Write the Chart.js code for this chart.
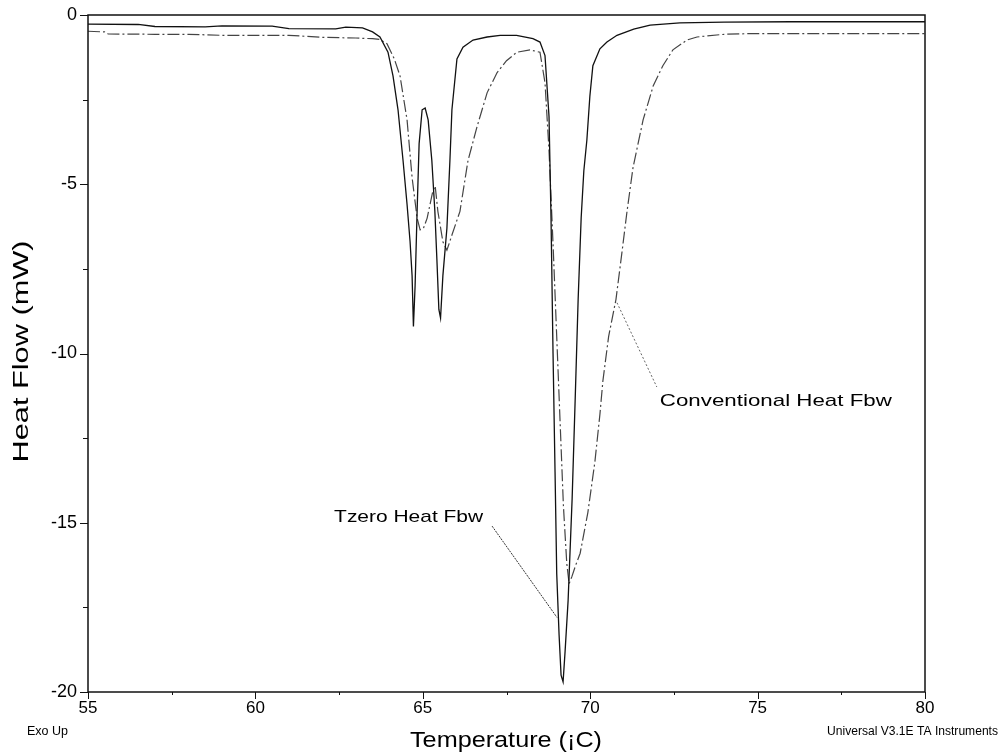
<html>
<head>
<meta charset="utf-8">
<script src="https://cdn.jsdelivr.net/npm/chart.js@4.4.1/dist/chart.umd.min.js"></script>
<style>
	body { margin: 0; background: #fff; }
</style>
</head>
<body>
<canvas id="dscChart" width="1000" height="753"></canvas>

<script>
	// Tzero heat flow (sharp curve)
	var tzero_t = [55, 56.5, 57, 58.5, 59, 60.5, 61, 62.4, 62.7, 63.2, 63.5, 63.72, 63.96, 64.11, 64.26, 64.41, 64.53, 64.62, 64.68, 64.72,
		64.77, 64.83, 64.89, 64.98, 65.07, 65.16, 65.27, 65.36, 65.42, 65.48, 65.53, 65.6, 65.72, 65.81, 65.87, 66.02, 66.2, 66.5, 66.92, 67.31,
		67.8, 68.29, 68.5, 68.65, 68.77, 68.83, 68.89, 68.95, 69.0, 69.07, 69.13, 69.19, 69.25, 69.34, 69.46, 69.55, 69.64, 69.73, 69.81, 69.9,
		69.99, 70.08, 70.29, 70.5, 70.8, 71.3, 71.79, 72.68, 74, 76, 78, 80]
	var tzero_hf = [-0.27, -0.28, -0.34, -0.35, -0.32, -0.33, -0.4, -0.41, -0.36, -0.38, -0.5, -0.65, -1.1, -1.8, -2.8, -4.3, -5.6, -6.7, -7.7, -9.2,
		-8.0, -5.8, -3.8, -2.8, -2.75, -3.1, -4.3, -5.8, -7.2, -8.7, -8.95, -7.7, -6.3, -4.3, -2.8, -1.3, -0.95, -0.74, -0.65, -0.6,
		-0.6, -0.7, -0.8, -1.2, -3, -6, -10, -13.5, -16.5, -18.3, -19.5, -19.7, -18.8, -17.3, -14.3, -11.4, -8.4, -6.0, -4.6, -3.7,
		-2.4, -1.5, -1.0, -0.8, -0.6, -0.42, -0.3, -0.23, -0.21, -0.2, -0.2, -0.2]

	// Conventional heat flow (broad curve)
	var conv_t = [55, 55.5, 55.6, 57, 58, 59, 60, 61, 62, 63, 63.5, 63.7, 63.93, 64.15, 64.32, 64.53, 64.68, 64.83, 64.92, 65.02,
		65.13, 65.3, 65.37, 65.45, 65.6, 65.72, 65.87, 66.11, 66.35, 66.62, 66.92, 67.22, 67.5, 67.81, 68.2, 68.5, 68.65, 68.77, 68.9, 69.0,
		69.1, 69.2, 69.3, 69.37, 69.45, 69.55, 69.7, 69.93, 70.14, 70.29, 70.38, 70.55, 70.77, 70.95, 71.1, 71.28, 71.58, 71.88, 72.17, 72.47,
		72.89, 73.19, 74.0, 74.77, 80]
	var conv_hf = [-0.48, -0.5, -0.56, -0.57, -0.57, -0.6, -0.6, -0.6, -0.66, -0.68, -0.7, -0.72, -0.85, -1.3, -1.8, -3.1, -4.8, -6.0, -6.35, -6.3,
		-6.0, -5.2, -5.05, -5.8, -6.7, -6.95, -6.5, -5.8, -4.3, -3.3, -2.3, -1.7, -1.35, -1.1, -1.03, -1.1, -2, -4, -7, -9.5,
		-12, -14.5, -16.2, -16.8, -16.6, -16.3, -15.9, -14.7, -13.2, -11.8, -10.8, -9.5, -8.4, -7.0, -5.8, -4.5, -3.1, -2.1, -1.5, -1.03,
		-0.74, -0.65, -0.57, -0.55, -0.55]

	// leader lines of the two labels: [start, end] in (T, HF)
	var tzero_lead_t = [67.07, 69.01]
	var tzero_lead_hf = [-15.1, -17.8]
	var conv_lead_t = [70.8, 71.99]
	var conv_lead_hf = [-8.5, -10.99]

	var x_ticks = [55, 60, 65, 70, 75, 80]
	var y_ticks = [0, -5, -10, -15, -20]

	function pts(xs, ys) {
		var out = []
		for (var i = 0; i < xs.length; i++) out.push({x: xs[i], y: ys[i]})
		return out
	}

	var FONT = '"Liberation Sans", Arial, sans-serif'

	function fitText(ctx, txt, x, y, size, w, align, rot) {
		ctx.save()
		ctx.font = size + 'px ' + FONT
		var s = w / ctx.measureText(txt).width
		ctx.translate(x, y)
		if (rot) ctx.rotate(rot)
		ctx.scale(s, 1)
		ctx.textAlign = align
		ctx.textBaseline = 'middle'
		ctx.fillStyle = '#000'
		ctx.fillText(txt, 0, 0)
		ctx.restore()
	}

	var decor = {
		id: 'decor',
		afterDraw: function(chart) {
			var ctx = chart.ctx, a = chart.chartArea
			var xs = chart.scales.x, ys = chart.scales.y
			ctx.save()
			ctx.strokeStyle = '#111'
			ctx.lineWidth = 1.5
			ctx.strokeRect(a.left, a.top, a.right - a.left, a.bottom - a.top)

			ctx.lineWidth = 1
			ctx.beginPath()
			for (var v = 0; v >= -20; v -= 2.5) {
				var py = Math.round(ys.getPixelForValue(v)) + 0.5
				var len = (v % 5 == 0) ? 8 : 5
				ctx.moveTo(a.left - len, py); ctx.lineTo(a.left, py)
			}
			for (var t = 55; t <= 80; t += 2.5) {
				var px = Math.round(xs.getPixelForValue(t)) + 0.5
				var len2 = (t % 5 == 0) ? 7 : 3
				ctx.moveTo(px, a.bottom); ctx.lineTo(px, a.bottom + len2)
			}
			ctx.stroke()
			ctx.restore()

			// axis titles and footer
			fitText(ctx, 'Heat Flow (mW)', 22, (a.top + a.bottom) / 2 - 2, 22, 222, 'center', -Math.PI / 2)
			fitText(ctx, 'Temperature (\u00a1C)', 506, 741, 22, 192, 'center')
			fitText(ctx, 'Exo Up', 27, 732, 12, 41, 'left')
			fitText(ctx, 'Universal V3.1E TA Instruments', 998, 732, 12, 171, 'right')

			// curve labels, placed by their leader lines
			var tx = xs.getPixelForValue(tzero_lead_t[0]), ty = ys.getPixelForValue(tzero_lead_hf[0])
			fitText(ctx, 'Tzero Heat Fbw', tx - 9, ty - 9, 17, 149, 'right')
			var cx = xs.getPixelForValue(conv_lead_t[1]), cy = ys.getPixelForValue(conv_lead_hf[1])
			fitText(ctx, 'Conventional Heat Fbw', cx + 3, cy + 14, 17, 232, 'left')
		}
	}

	var cfg = {
		type: 'scatter',
		data: {
			datasets: [
				{ label: 'Tzero', data: pts(tzero_t, tzero_hf), showLine: true, borderColor: '#111', borderWidth: 1.3, pointRadius: 0, tension: 0 },
				{ label: 'Conventional', data: pts(conv_t, conv_hf), showLine: true, borderColor: '#444', borderWidth: 1.2, borderDash: [12, 3, 2, 3], pointRadius: 0, tension: 0 },
				{ label: 'lead1', data: pts(tzero_lead_t, tzero_lead_hf), showLine: true, borderColor: '#333', borderWidth: 1, borderDash: [2, 1], pointRadius: 0 },
				{ label: 'lead2', data: pts(conv_lead_t, conv_lead_hf), showLine: true, borderColor: '#666', borderWidth: 1, borderDash: [2, 2], pointRadius: 0 }
			]
		},
		options: {
			responsive: false,
			animation: false,
			layout: { padding: { left: 0, top: 15, right: 75, bottom: 0 } },
			plugins: { legend: { display: false }, tooltip: { enabled: false } },
			scales: {
				x: {
					type: 'linear', min: 55, max: 80,
					afterBuildTicks: function(s) { s.ticks = x_ticks.map(function(v) { return {value: v} }) },
					afterFit: function(s) { s.height = 61; s.paddingLeft = 0; s.paddingRight = 0 },
					grid: { display: false, drawTicks: false },
					border: { display: false },
					ticks: { padding: 6, color: '#000', font: { family: FONT, size: 17 } }
				},
				y: {
					type: 'linear', min: -20, max: 0,
					afterBuildTicks: function(s) { s.ticks = y_ticks.map(function(v) { return {value: v} }) },
					afterFit: function(s) { s.width = 88; s.paddingTop = 0; s.paddingBottom = 0 },
					grid: { display: false, drawTicks: false },
					border: { display: false },
					ticks: { padding: 11, color: '#000', font: { family: FONT, size: 18 } }
				}
			}
		},
		plugins: [decor]
	}

	var dsc_chart = new Chart(document.getElementById('dscChart'), cfg)
</script>
</body>
</html>
